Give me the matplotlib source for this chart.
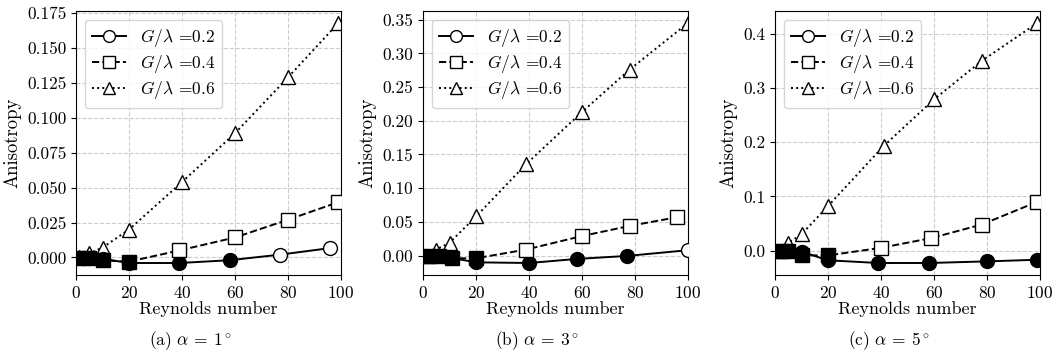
import numpy as np
import matplotlib
matplotlib.use('Agg')
import matplotlib.pyplot as plt
from matplotlib.ticker import MultipleLocator

plt.rcParams['font.family'] = 'cmr10'
plt.rcParams['mathtext.fontset'] = 'cm'
plt.rcParams['axes.formatter.use_mathtext'] = True
plt.rcParams['font.size'] = 12.5

# Reynolds number / anisotropy, per panel and per G/lambda
labels = ['0.2', '0.4', '0.6']
captions = [r'(a) $\alpha$ = 1$^\circ$', r'(b) $\alpha$ = 3$^\circ$', r'(c) $\alpha$ = 5$^\circ$']

re_a = [[1, 5, 10, 20, 39, 58, 77, 96],
        [1, 5, 10, 20, 39, 60, 80, 99],
        [1, 5, 10, 20, 40, 60, 80, 99]]
an_a = [[-0.0003, -0.0005, -0.001, -0.004, -0.004, -0.002, 0.002, 0.0067],
        [-0.0002, -0.0004, -0.002, -0.003, 0.005, 0.0143, 0.027, 0.0396],
        [0.0, 0.003, 0.007, 0.020, 0.054, 0.089, 0.129, 0.168]]

re_b = [[1, 5, 10, 20, 40, 58, 77, 100],
        [2, 6, 11, 20, 39, 60, 78, 96],
        [1, 5, 10, 20, 39, 60, 78, 100]]
an_b = [[-0.0005, -0.001, -0.003, -0.010, -0.011, -0.005, -0.0005, 0.008],
        [-0.0003, -0.0005, -0.004, -0.004, 0.009, 0.029, 0.044, 0.057],
        [0.0, 0.009, 0.019, 0.058, 0.136, 0.213, 0.276, 0.345]]

re_c = [[1, 5, 10, 20, 39, 58, 80, 99],
        [2, 5, 10, 20, 40, 59, 78, 99],
        [1, 5, 10, 20, 41, 60, 78, 99]]
an_c = [[-0.0005, -0.001, -0.002, -0.018, -0.023, -0.023, -0.020, -0.017],
        [-0.0003, -0.0005, -0.009, -0.009, 0.005, 0.023, 0.048, 0.090],
        [0.0, 0.014, 0.030, 0.082, 0.193, 0.279, 0.350, 0.420]]

panels = [(re_a, an_a), (re_b, an_b), (re_c, an_c)]
yfmt = ['%.3f', '%.2f', '%.1f']
ystep = [0.025, 0.05, 0.1]

markers = ['o', 's', '^']
styles = ['-', '--', ':']
zorders = [3, 4, 2]

fig = plt.figure(figsize=(10.55, 3.62), dpi=100)
lefts = [76, 423, 775]

for k, (re, an) in enumerate(panels):
    ax = fig.add_axes([lefts[k] / 1055, 87 / 362, 265 / 1055, 264 / 362])
    for i in range(3):
        x = np.array(re[i])
        y = np.array(an[i])
        ax.plot(x, y, color='k', ls=styles[i], lw=1.4, zorder=zorders[i])
        neg = y <= 0
        # hollow markers for positive values, filled for negative
        ax.plot(x[~neg], y[~neg], ls='none', marker=markers[i], ms=10,
                mfc='white', mec='k', mew=1.0, zorder=zorders[i])
        ax.plot(x[neg], y[neg], ls='none', marker=markers[i], ms=10,
                mfc='k', mec='k', mew=1.0, zorder=zorders[i])
        # legend proxy
        ax.plot([], [], color='k', ls=styles[i], lw=1.4, marker=markers[i], ms=10,
                mfc='white', mec='k', label=r'$G/\lambda$ =' + labels[i])
    ax.set_xlim(0, 100)
    ax.xaxis.set_major_locator(MultipleLocator(20))
    ax.yaxis.set_major_locator(MultipleLocator(ystep[k]))
    ax.yaxis.set_major_formatter(plt.FormatStrFormatter(yfmt[k]))
    ax.grid(True, ls='--', color='#cccccc', lw=0.8)
    ax.set_axisbelow(True)
    ax.set_xlabel('Reynolds number', fontsize=13, labelpad=0)
    ax.set_ylabel('Anisotropy', fontsize=13.5)
    ax.legend(loc='upper left', fontsize=12.5, handlelength=2.0,
              labelspacing=0.25, markerscale=0.85, borderpad=0.4)
    fig.text((lefts[k] + 132.5 - 18) / 1055, 0.06, captions[k], ha='center', va='center', fontsize=12.5)

fig.savefig('out.png', dpi=100)
